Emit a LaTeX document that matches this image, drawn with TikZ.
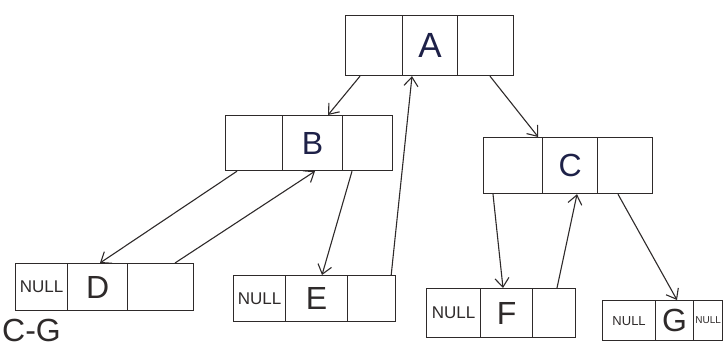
\documentclass[tikz,border=0pt]{standalone}
\usepackage{fontspec}
\setmainfont{Liberation Sans}
\usetikzlibrary{arrows.meta}
\definecolor{ink}{HTML}{1E2148}
\definecolor{pen}{HTML}{2E2A2A}
\begin{document}
\begin{tikzpicture}[x=1pt,y=-1pt,
  cell/.style={draw=pen, line width=1.2pt, inner sep=0pt, anchor=north west},
  letter/.style={font=\fontsize{32}{32}\selectfont, text=pen},
  inkletter/.style={font=\fontsize{32}{32}\selectfont, text=ink},
  nulltext/.style={font=\fontsize{17}{17}\selectfont, text=pen},
  link/.style={draw=pen, line width=1.1pt, -{Straight Barb[length=9pt,width=14pt,line width=1.1pt]}}]
\useasboundingbox (0,0) rectangle (725,347);
% A
\node[cell, minimum width=57pt, minimum height=60pt] (Al) at (345,15) {};
\node[cell, minimum width=55pt, minimum height=60pt, inkletter, font=\fontsize{35}{35}\selectfont] (Am) at (402,15) {A};
\node[cell, minimum width=56pt, minimum height=60pt] (Ar) at (457,15) {};
% B
\node[cell, minimum width=57pt, minimum height=55pt] (Bl) at (225,115) {};
\node[cell, minimum width=60pt, minimum height=55pt, inkletter] (Bm) at (282,115) {B};
\node[cell, minimum width=50pt, minimum height=55pt] (Br) at (342,115) {};
% C
\node[cell, minimum width=59pt, minimum height=56pt] (Cl) at (483,137) {};
\node[cell, minimum width=55pt, minimum height=56pt, inkletter] (Cm) at (542,137) {C};
\node[cell, minimum width=55pt, minimum height=56pt] (Cr) at (597,137) {};
% D
\node[cell, minimum width=52pt, minimum height=47pt, nulltext] (Dl) at (15,263) {NULL};
\node[cell, minimum width=60pt, minimum height=47pt, letter] (Dm) at (67,263) {D};
\node[cell, minimum width=66pt, minimum height=47pt] (Dr) at (127,263) {};
% E
\node[cell, minimum width=52pt, minimum height=46pt, nulltext] (El) at (233,275) {NULL};
\node[cell, minimum width=62pt, minimum height=46pt, letter] (Em) at (285,275) {E};
\node[cell, minimum width=48pt, minimum height=46pt] (Er) at (347,275) {};
% F
\node[cell, minimum width=54pt, minimum height=49pt, nulltext] (Fl) at (426,288) {NULL};
\node[cell, minimum width=52pt, minimum height=49pt, letter] (Fm) at (480,288) {F};
\node[cell, minimum width=43pt, minimum height=49pt] (Fr) at (532,288) {};
% G
\node[cell, minimum width=53pt, minimum height=40pt, nulltext, font=\fontsize{13}{13}\selectfont] (Gl) at (602,300) {NULL};
\node[cell, minimum width=38pt, minimum height=40pt, letter] (Gm) at (655,300) {G};
\node[cell, minimum width=29pt, minimum height=40pt, nulltext, font=\fontsize{10}{10}\selectfont] (Gr) at (693,300) {NULL};
% label
\node[letter, anchor=west, inner sep=0pt] (cg) at (2,330) {C-G};
% links
\draw[link] ([xshift=15pt]Al.south west) -- ([xshift=46pt]Bm.north west);
\draw[link] ([xshift=33pt]Ar.south west) -- ([xshift=-5pt]Cl.north east);
\draw[link] ([xshift=12pt]Bl.south west) -- ([xshift=33pt]Dm.north west);
\draw[link] ([xshift=48pt]Dr.north west) -- ([xshift=33pt]Bm.south west);
\draw[link] ([xshift=10pt]Br.south west) -- ([xshift=37pt]Em.north west);
\draw[link] ([xshift=-5pt]Er.north east) -- ([xshift=10pt]Am.south west);
\draw[link] ([xshift=10pt]Cl.south west) -- ([xshift=23pt]Fm.north west);
\draw[link] ([xshift=25pt]Fr.north west) -- ([xshift=35pt]Cm.south west);
\draw[link] ([xshift=21pt]Cr.south west) -- ([xshift=22pt]Gm.north west);
\end{tikzpicture}
\end{document}
